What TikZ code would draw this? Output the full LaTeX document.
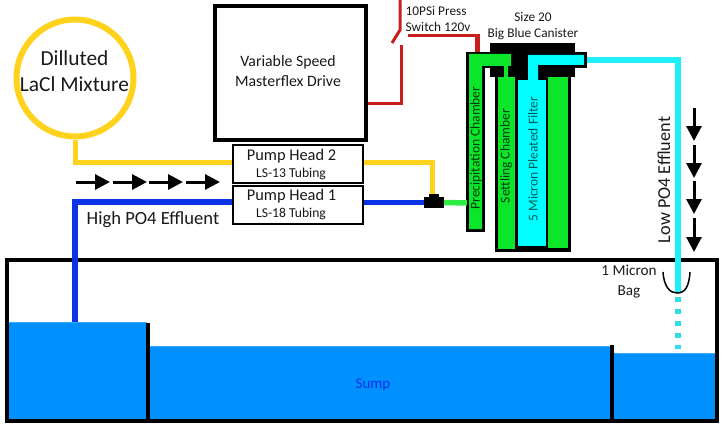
\documentclass[tikz,border=0pt]{standalone}
\usepackage{fontspec}
\setmainfont{Carlito}
\usetikzlibrary{arrows.meta}
\definecolor{waterblue}{HTML}{0090FF}
\definecolor{waterline}{HTML}{38AAFF}
\definecolor{pipeblue}{HTML}{0A32E6}
\definecolor{pipeyellow}{HTML}{FFD21E}
\definecolor{pipegreen}{HTML}{2EEB46}
\definecolor{pipecyan}{HTML}{1EF0FA}
\definecolor{dripcyan}{HTML}{30DDE8}
\definecolor{chambergreen}{HTML}{0CE62A}
\definecolor{filtercyan}{HTML}{00FFFF}
\definecolor{wirered}{HTML}{C81E1E}
\newcommand{\fs}[2]{\fontsize{#1}{#2}\selectfont}
\tikzset{
  lbl/.style={inner sep=0pt,align=center,text=black!90},
  pumpbox/.style={draw=black,line width=1.8pt,fill=white,minimum width=130pt,minimum height=38pt,inner sep=0pt},
  pumptitle/.style={lbl,font=\fs{16.4}{17}},
  pumptube/.style={lbl,font=\fs{13.6}{15}},
  flow/.style={line width=3pt,-{Triangle[length=15pt,width=15pt]}},
  pipe/.style={line width=5.5pt},
  wire/.style={wirered,line width=3pt},
  solid black/.style={fill=black,draw=none},
  chambertext/.style={rotate=90,inner sep=0pt,font=\fs{13.5}{15}},
}
\begin{document}
\begin{tikzpicture}[x=1pt,y=-1pt]
\useasboundingbox (0,0) rectangle (723,428);
% water in the three sump compartments
\fill[waterblue] (9,322) rectangle (147,419);
\fill[waterblue] (149,346) rectangle (611,419);
\fill[waterblue] (613,353) rectangle (715,419);
\draw[waterline,line width=1pt] (9,322.5) -- (147,322.5) (149,346.5) -- (611,346.5) (613,353.5) -- (715,353.5);
% sump walls
\node[draw=black,line width=4pt,minimum width=710pt,minimum height=161pt,inner sep=0pt] (sump) at (362,340.5) {};
\coordinate (baffleA) at (148,323);
\coordinate (baffleB) at (612,345);
\draw[line width=3.4pt] (baffleA) -- (148,420);
\draw[line width=3.4pt] (baffleB) -- (612,420);
\node[text=pipeblue,font=\fs{15}{15}] (sumplabel) at (373,385) {Sump};

% drive and pump heads
\node[draw=black,line width=4pt,minimum width=151pt,minimum height=134pt,inner sep=0pt] (drive) at (290.5,73) {};
\node[lbl,font=\fs{15.8}{20}] (drivelabel) at (288,71) {Variable Speed\\Masterflex Drive};
\node[pumpbox] (head2) at (298,164) {};
\node[pumptitle] (head2title) at (291.5,156) {Pump Head 2};
\node[pumptube] (head2tube) at (291,173.5) {LS-13 Tubing};
\node[pumpbox] (head1) at (298,205) {};
\node[pumptitle] (head1title) at (291.5,196) {Pump Head 1};
\node[pumptube] (head1tube) at (291,213.5) {LS-18 Tubing};

% reagent reservoir
\node[circle,draw=pipeyellow,line width=6pt,minimum size=117pt,inner sep=0pt] (reservoir) at (75,78) {};
\node[lbl,font=\fs{21.4}{26}] (reservoirlabel) at (74.5,71) {Dilluted\\LaCl Mixture};

% tee fitting
\fill[black] (424,197) rectangle (444,208);
\node[solid black,minimum width=10pt,minimum height=4pt,inner sep=0pt] (teetop) at (434,196) {};
\node[minimum width=20pt,minimum height=11pt,inner sep=0pt] (tee) at (434,202.5) {};

% canister manifold and cap
\fill[black] (490,43) rectangle (575,52);
\fill[black] (467,52) rectangle (587,68);
\fill[black] (490,68) rectangle (575,77);
% settling housing and precipitation chamber
\fill[black] (495,75) rectangle (571,252);
\fill[black] (466,52) rectangle (485,232);
\fill[chambergreen] (498,77) rectangle (515,249);
\fill[chambergreen] (548,77) rectangle (568,248);
\fill[filtercyan] (518,80) rectangle (546,246);
% precipitation chamber outlet, bent over into the settling chamber
\fill[chambergreen] (469,54) -- (511,54) -- (511,66) -- (508,66) -- (508,78) -- (504,78) -- (504,66) -- (482,66) -- (482,229) -- (469,229) -- cycle;
% filter outlet
\fill[filtercyan] (528,80) -- (528,55) -- (584,55) -- (584,65) -- (538,65) -- (538,80) -- cycle;
\node[chambertext,text=black!75!chambergreen] (plabel) at (476,148) {Precipitation Chamber};
\node[chambertext,text=black!75!chambergreen] (slabel) at (506,156) {Settling Chamber};
\node[chambertext,text=black!65!filtercyan] (flabel) at (533,159) {5 Micron Pleated Filter};
\coordinate (canisterout) at (587,60);
\coordinate (chamberin) at (467,203);

% tubing runs
\draw[pipe,pipeyellow,line width=5pt] (reservoir.south) -- (75,162) -- (head2.west |- 0,162);
\draw[pipe,pipeyellow,line width=5pt] (head2.east |- 0,162) -- (432,162) -- (432,194);
\coordinate (suction) at (75,322);
\draw[pipe,pipeblue] (suction) -- (75,202) -- (head1.west |- 0,202);
\draw[pipe,pipeblue] (head1.east |- tee.west) -- (tee.west);
\draw[pipe,pipegreen] (tee.east) -- (chamberin);
\coordinate (bagin) at (678,293);
\draw[pipecyan,line width=6pt] (canisterout) -- (678,60) -- (bagin);
\draw[dripcyan,line width=6pt,dash pattern=on 5pt off 7pt] (678,297) -- (678,349);

% filter bag
\draw[line width=1.5pt] (663,272) .. controls (664,287) and (670,293) .. (677,293) .. controls (685,293) and (689,287) .. (690,272);
\node[lbl,font=\fs{15.2}{20}] (baglabel) at (629,282) {1 Micron\\Bag};

% pressure switch wiring
\coordinate (wiretop) at (400,0);
\draw[wire] (wiretop) -- (400,30) -- (392,43);
\draw[wire] (401,45) -- (401,103) -- (drive.east |- 0,103);
\draw[wire] (408,36) -- (477,36);
\draw[wirered,line width=5pt] (477,34.5) -- (477,52);
\node[lbl,font=\fs{13.3}{16},align=left,anchor=west] (switchlabel) at (405.5,19) {10PSi Press\\Switch 120v};
\node[lbl,font=\fs{13.3}{16}] (canisterlabel) at (533,26) {Size 20\\Big Blue Canister};

% flow direction arrows
\foreach \a/\b in {76/110,113/147,149/183,186/220}
  \draw[flow] (\a,182) -- (\b,182);
\foreach \a/\b in {108/141,145/178,181/214,218/252}
  \draw[flow] (694,\a) -- (694,\b);
\node[lbl,font=\fs{18.6}{20}] (highlabel) at (153,220) {High PO4 Effluent};
\node[lbl,rotate=90,font=\fs{18.2}{20}] (lowlabel) at (664,180) {Low PO4 Effluent};
\end{tikzpicture}
\end{document}
